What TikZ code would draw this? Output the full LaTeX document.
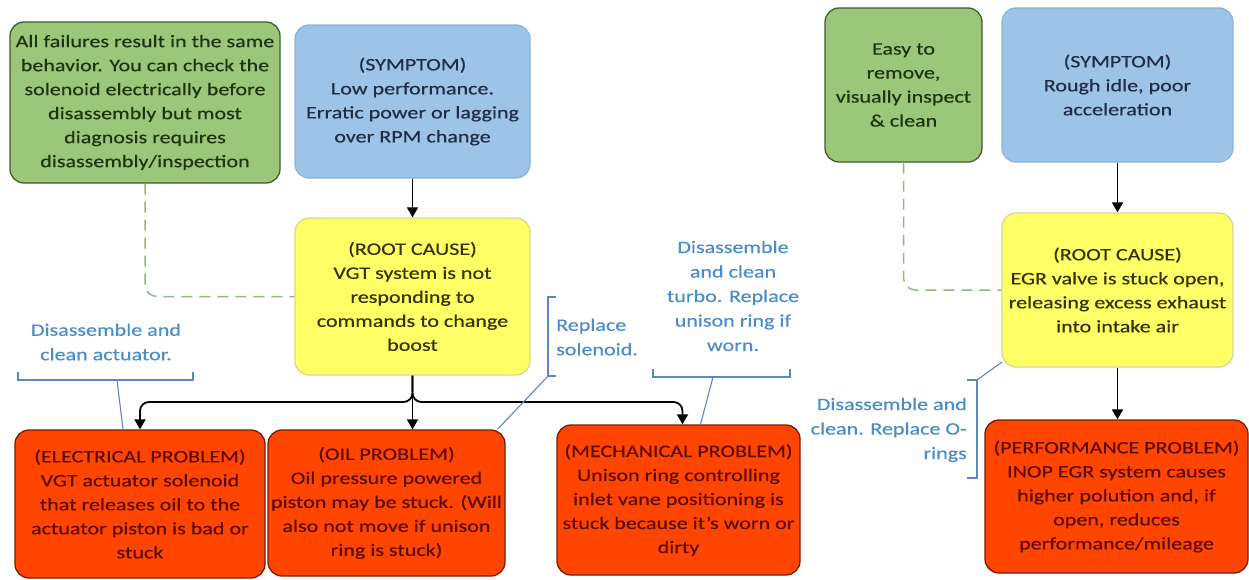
\documentclass[tikz,border=0pt]{standalone}
\usepackage{fontspec}
\setmainfont{Carlito}[FakeStretch=1.26,FakeBold=0.4]
\usetikzlibrary{arrows.meta}
\definecolor{gfill}{HTML}{9CC67A}
\definecolor{gdraw}{HTML}{3F5F2A}
\definecolor{gtext}{HTML}{1E3310}
\definecolor{bfill}{HTML}{9DC3E6}
\definecolor{bdraw}{HTML}{8EB2D6}
\definecolor{btext}{HTML}{1F2D45}
\definecolor{yfill}{HTML}{FFFF66}
\definecolor{ydraw}{HTML}{D8D890}
\definecolor{ytext}{HTML}{333300}
\definecolor{rfill}{HTML}{FF4500}
\definecolor{rdraw}{HTML}{7A1A00}
\definecolor{rtext}{HTML}{5C0A00}
\definecolor{ctext}{HTML}{4A8DCB}
\definecolor{cline}{HTML}{5A88C0}
\definecolor{dline}{HTML}{8FB87A}
\begin{document}
\begin{tikzpicture}[x=1pt,y=-1pt,
  box/.style={rounded corners=14pt, line width=1.3pt, align=center,
    font=\fontsize{17.5}{24}\selectfont, inner sep=2pt},
  gbox/.style={box, draw=gdraw, fill=gfill, text=gtext},
  bbox/.style={box, draw=bdraw, fill=bfill, text=btext},
  ybox/.style={box, draw=ydraw, fill=yfill, text=ytext},
  rbox/.style={box, draw=rdraw, fill=rfill, text=rtext},
  callout/.style={text=ctext, font=\fontsize{17.5}{24.5}\selectfont, inner sep=0pt},
  bracket/.style={draw=cline, line width=1.1pt},
  arr/.style={line width=1.8pt, draw=black, -{Triangle[width=11pt,length=10pt]}},
  dashline/.style={draw=dline, line width=1.5pt, dash pattern=on 11pt off 7pt, rounded corners=12pt}]
\useasboundingbox (0,0) rectangle (1249,579);

% left diagram
\node[gbox, minimum width=270pt, minimum height=161pt] (g1) at (145,102.5)
  {All failures result in the same\\behavior. You can check the\\solenoid electrically before\\disassembly but most\\diagnosis requires\\disassembly/inspection};
\node[bbox, minimum width=235pt, minimum height=153pt] (s1) at (412.5,101.5)
  {(SYMPTOM)\\Low performance.\\Erratic power or lagging\\over RPM change};
\node[ybox, minimum width=235pt, minimum height=157pt] (r1) at (412.5,296.5)
  {(ROOT CAUSE)\\VGT system is not\\responding to\\commands to change\\boost};
\node[rbox, minimum width=250pt, minimum height=148pt] (elec) at (140,504)
  {(ELECTRICAL PROBLEM)\\VGT actuator solenoid\\that releases oil to the\\actuator piston is bad or\\stuck};
\node[rbox, minimum width=237pt, minimum height=146pt] (oil) at (386.5,503)
  {(OIL PROBLEM)\\Oil pressure powered\\piston may be stuck. (Will\\also not move if unison\\ring is stuck)};
\node[rbox, minimum width=243pt, minimum height=150pt] (mech) at (678.5,500)
  {(MECHANICAL PROBLEM)\\Unison ring controlling\\inlet vane positioning is\\stuck because it’s worn or\\dirty};

\draw[arr] (s1.south) -- (r1.north);
\coordinate (br) at (412.5,402);
\draw[arr] (r1.south) -- (oil.north -| br);
\draw[arr, rounded corners=9pt] (r1.south) -- (br) -| (elec.north);
\draw[arr, rounded corners=9pt] (r1.south) -- (br) -| ([xshift=4pt]mech.north);
\draw[dashline] (g1.south) |- (r1.west);

% callouts left
\node[callout, align=center] (c1) at (106,342) {Disassemble and\\clean actuator.};
\coordinate (c1a) at (117,380);
\draw[bracket] (18,372) -- (18,380) -- (193,380) -- (193,372);
\draw[bracket] (c1a) -- ([xshift=-17pt]elec.north);

\node[callout, align=left, anchor=west] (c2) at (556,337) {Replace\\solenoid.};
\coordinate (c2a) at (548,376);
\draw[bracket] (556,297) -- (548,297) -- (548,376) -- (556,376);
\draw[bracket] (c2a) -- ([xshift=111pt]oil.north);

\node[callout, align=center] (c3) at (733,296) {Disassemble\\and clean\\turbo. Replace\\unison ring if\\worn.};
\coordinate (c3a) at (713,377);
\draw[bracket] (653,369) -- (653,377) -- (790,377) -- (790,369);
\draw[bracket] (c3a) -- ([xshift=22pt]mech.north);

% right diagram
\node[gbox, minimum width=157pt, minimum height=154pt] (g2) at (903.5,85)
  {Easy to\\remove,\\visually inspect\\\& clean};
\node[bbox, minimum width=231pt, minimum height=154pt] (s2) at (1117.5,85)
  {(SYMPTOM)\\Rough idle, poor\\acceleration};
\node[ybox, minimum width=231pt, minimum height=154pt] (r2) at (1117.5,290)
  {(ROOT CAUSE)\\EGR valve is stuck open,\\releasing excess exhaust\\into intake air};
\node[rbox, minimum width=263pt, minimum height=153pt] (perf) at (1116.5,496.5)
  {(PERFORMANCE PROBLEM)\\INOP EGR system causes\\higher polution and, if\\open, reduces\\performance/mileage};

\draw[arr] (s2.south) -- (r2.north);
\draw[arr] (r2.south) -- (perf.north -| r2.south);
\draw[dashline] (g2.south) |- (r2.west);

\node[callout, align=right, anchor=east] (c4) at (967,430) {Disassemble and\\clean. Replace O-\\rings};
\coordinate (c4a) at (977,380);
\draw[bracket] (967,380) -- (977,380) -- (977,478) -- (967,478);
\draw[bracket] (c4a) -- (1002,362);
\end{tikzpicture}
\end{document}
